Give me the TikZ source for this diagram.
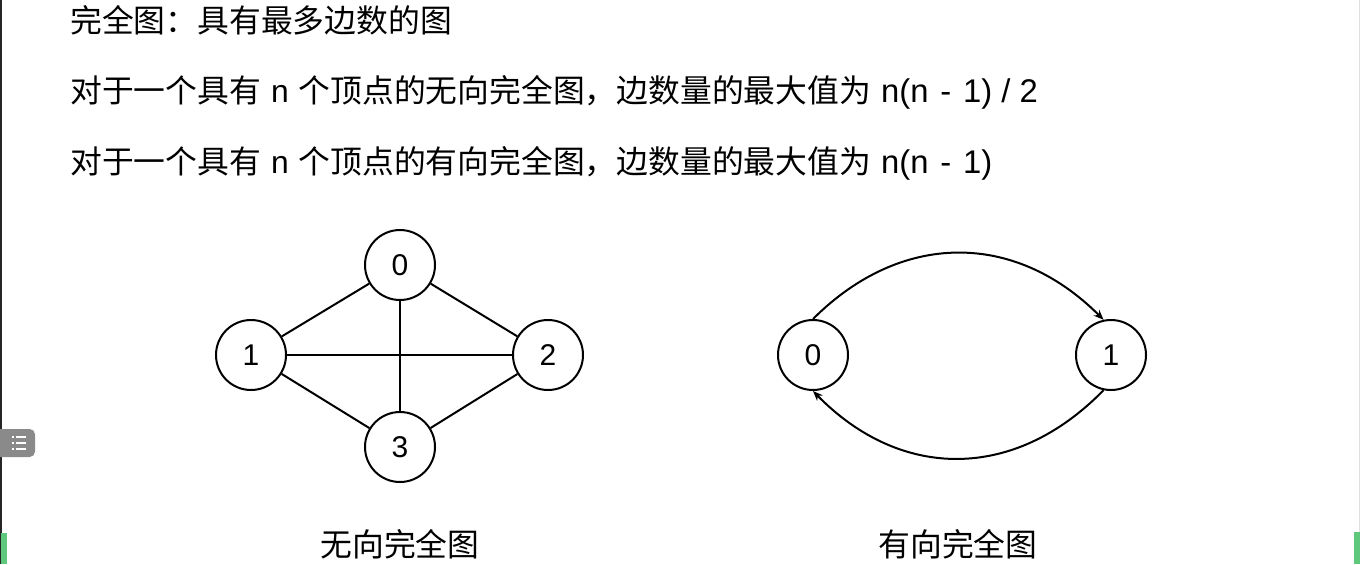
\documentclass[tikz,border=0pt]{standalone}
\usepackage{fontspec}
\setmainfont{Liberation Sans}
\newfontfamily\cjk{Noto Sans CJK SC}
\newfontfamily\lat{Liberation Sans}
\usetikzlibrary{arrows.meta}
\definecolor{barGreen}{RGB}{94,200,124}
\definecolor{iconGray}{RGB}{138,138,138}
\newcommand{\gapsp}{\hspace{7.5pt}}
\begin{document}
\begin{tikzpicture}[x=0.75pt,y=-0.75pt,
  vtx/.style={circle, draw, line width=1.5pt, minimum size=52.5pt, inner sep=0pt,
    font=\lat\fontsize{22.5}{27}\selectfont},
  edge/.style={line width=1.5pt},
  arr/.style={line width=1.5pt, -{Stealth[length=7.5pt,width=6pt]}},
  txt/.style={anchor=base west, inner sep=0pt, font=\cjk\fontsize{23.85}{28}\selectfont},
  captxt/.style={anchor=base, inner sep=0pt, font=\cjk\fontsize{23.85}{28}\selectfont}]
\useasboundingbox (0,0) rectangle (1360,564);
% window decorations
\fill[black!85] (0,0) rectangle (1.5,564);
\fill[black!12] (1359,0) rectangle (1360,532);
\fill[barGreen] (1,533) rectangle (7,564);
\fill[barGreen] (1354,532) rectangle (1360,564);
\fill[iconGray, rounded corners=4pt] (-6,429) rectangle (35,457);
\foreach \yy in {437,443,449} {
  \fill[white] (12,\yy-0.8) rectangle (13.6,\yy+0.8);
  \fill[white] (16,\yy-0.8) rectangle (26,\yy+0.8);
}
% text lines
\node[txt] (t1) at (70,32) {完全图：具有最多边数的图};
\node[txt] (t2) at (70,102) {对于一个具有\gapsp{\lat n}\gapsp 个顶点的无向完全图，边数量的最大值为\gapsp{\lat\fontsize{24.6}{28}\selectfont n(n\hspace{2pt} - \hspace{2pt}1) / 2}};
\node[txt] (t3) at (70,173) {对于一个具有\gapsp{\lat n}\gapsp 个顶点的有向完全图，边数量的最大值为\gapsp{\lat\fontsize{24.6}{28}\selectfont n(n\hspace{2pt} - \hspace{2pt}1)}};
% undirected complete graph
\node[vtx] (u0) at (400,265) {0};
\node[vtx] (u1) at (251,355) {1};
\node[vtx] (u2) at (548,355) {2};
\node[vtx] (u3) at (400,447) {3};
\draw[edge] (u0) -- (u1);
\draw[edge] (u0) -- (u2);
\draw[edge] (u0) -- (u3);
\draw[edge] (u1) -- (u2);
\draw[edge] (u1) -- (u3);
\draw[edge] (u2) -- (u3);
\node[captxt] (c1) at (400,556) {无向完全图};
% directed complete graph
\node[vtx] (d0) at (813,355) {0};
\node[vtx] (d1) at (1111,355) {1};
\draw[arr] (d0.90) .. controls (901,231) and (1015,231) .. (d1.102);
\draw[arr] (d1.-102) .. controls (1015,481) and (901,481) .. (d0.-90);
\node[captxt] (c2) at (958,556) {有向完全图};
\end{tikzpicture}
\end{document}
